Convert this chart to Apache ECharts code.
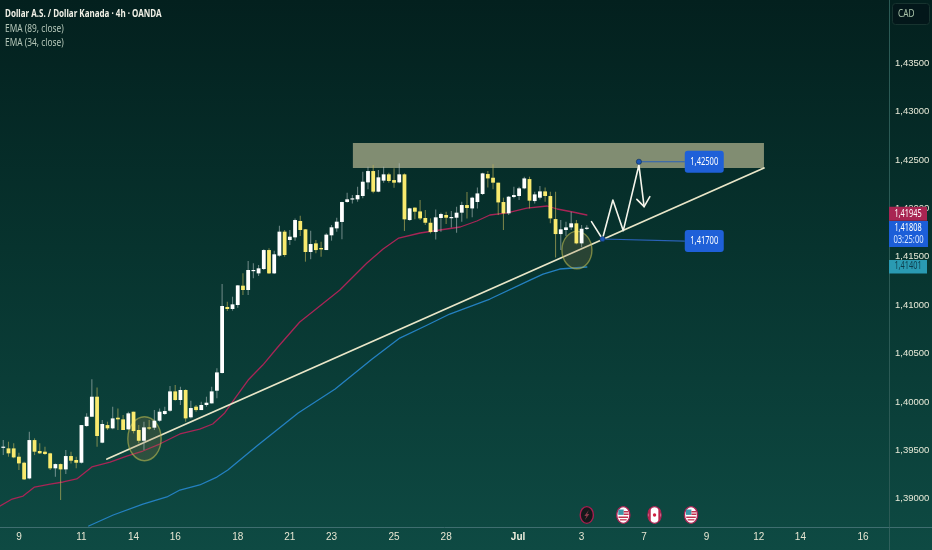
<!DOCTYPE html>
<html><head><meta charset="utf-8">
<style>html,body{margin:0;padding:0;background:#062a27}#c{width:932px;height:550px}</style>
<script src="https://cdn.jsdelivr.net/npm/echarts@6/dist/echarts.min.js"></script>
</head><body><div id="c"></div>
<script>
const titleLines = ['Dollar A.S. / Dollar Kanada · 4h · OANDA','EMA (89, close)','EMA (34, close)'];
const opens=[1.39532,1.39521,1.39521,1.39435,1.39373,1.39211,1.39607,1.39494,1.39487,1.3947,1.39315,1.39359,1.39304,1.39442,1.39401,1.39373,1.39752,1.39848,1.40055,1.3958,1.39762,1.39728,1.39838,1.39821,1.39718,1.399,1.39711,1.396,1.39738,1.39735,1.39807,1.39876,1.3991,1.4011,1.40021,1.40124,1.39842,1.39952,1.39917,1.39969,1.39986,1.40117,1.403,1.40982,1.40961,1.41002,1.41202,1.41157,1.41357,1.41329,1.41374,1.4157,1.41329,1.41512,1.4176,1.41674,1.41701,1.4187,1.41784,1.4155,1.41639,1.41591,1.4157,1.41722,1.41794,1.4186,1.42066,1.42094,1.42094,1.42128,1.42269,1.42386,1.42173,1.42287,1.42352,1.42293,1.42269,1.42352,1.4188,1.42008,1.41969,1.41901,1.41852,1.41756,1.41901,1.41932,1.41904,1.41904,1.41956,1.42035,1.42,1.42066,1.42149,1.42355,1.42317,1.42266,1.42066,1.41949,1.42118,1.42128,1.42207,1.42303,1.42076,1.42111,1.42176,1.42128,1.4189,1.41735,1.41777,1.41804,1.41846,1.41639,1.4179];
const closes=[1.39539,1.3947,1.39428,1.39366,1.39201,1.39607,1.39487,1.3947,1.39463,1.39315,1.39359,1.39304,1.39442,1.39394,1.39373,1.39762,1.39848,1.40055,1.39649,1.39773,1.39728,1.39831,1.39821,1.39711,1.39883,1.397,1.396,1.39738,1.39728,1.39807,1.399,1.39907,1.4011,1.40021,1.40124,1.39831,1.39938,1.39917,1.39969,1.39993,1.4011,1.40306,1.40992,1.40961,1.41009,1.41205,1.41157,1.41364,1.41364,1.41381,1.4157,1.41329,1.41526,1.4176,1.41519,1.41708,1.4188,1.41777,1.4155,1.41632,1.4157,1.41577,1.41729,1.41805,1.41863,1.42066,1.42094,1.42104,1.42138,1.42276,1.42386,1.42173,1.42321,1.42352,1.42283,1.42266,1.42352,1.41887,1.42001,1.41966,1.41897,1.41852,1.41756,1.41908,1.41942,1.41904,1.41911,1.41956,1.42035,1.42004,1.42111,1.42155,1.42362,1.4231,1.42266,1.42062,1.41949,1.42121,1.42138,1.42207,1.4231,1.4208,1.42145,1.42176,1.42128,1.41897,1.41735,1.41784,1.41804,1.41846,1.41639,1.4179,1.41801];
const lows=[1.39452,1.39435,1.39418,1.39298,1.39194,1.39201,1.39452,1.39463,1.39452,1.39298,1.39229,1.38988,1.39256,1.39366,1.39315,1.39366,1.39745,1.39848,1.39539,1.39573,1.39711,1.39718,1.39711,1.39711,1.39711,1.39676,1.39573,1.39504,1.39711,1.39711,1.39797,1.39866,1.399,1.40014,1.39969,1.39797,1.39831,1.399,1.39917,1.39952,1.39986,1.40038,1.40295,1.4094,1.40944,1.40975,1.41106,1.41106,1.41278,1.41302,1.41364,1.41322,1.41322,1.41502,1.41502,1.41622,1.41667,1.41715,1.4145,1.41474,1.41536,1.41502,1.4157,1.41667,1.4176,1.41681,1.42059,1.42052,1.4207,1.42104,1.42197,1.42156,1.42166,1.42266,1.42266,1.42214,1.42259,1.41767,1.41873,1.41887,1.4188,1.41828,1.41742,1.4168,1.41759,1.41839,1.41804,1.41749,1.41863,1.41897,1.41908,1.42,1.42138,1.42217,1.42197,1.41932,1.41777,1.41932,1.42104,1.42087,1.42197,1.42,1.42052,1.42093,1.42069,1.41846,1.41494,1.4157,1.41715,1.41777,1.41629,1.41598,1.41777];
const highs=[1.39607,1.3959,1.39573,1.39477,1.39384,1.39693,1.39625,1.39573,1.39539,1.39477,1.39366,1.39366,1.39504,1.39487,1.39435,1.39762,1.39883,1.40234,1.40151,1.39814,1.39797,1.39952,1.39934,1.39866,1.399,1.399,1.39762,1.39797,1.39814,1.39917,1.39934,1.39952,1.40165,1.40175,1.40158,1.40131,1.40014,1.39969,1.40003,1.40055,1.40158,1.40348,1.41219,1.41037,1.41088,1.41209,1.41329,1.41457,1.41433,1.41415,1.41577,1.41588,1.41563,1.41822,1.41777,1.41777,1.41897,1.41925,1.41787,1.4177,1.41674,1.41656,1.41743,1.41829,1.41904,1.4207,1.42163,1.42138,1.42225,1.42379,1.42431,1.42448,1.42397,1.42431,1.42369,1.42414,1.42466,1.42362,1.42008,1.42011,1.42087,1.41983,1.41897,1.4199,1.41956,1.41966,1.41973,1.42018,1.42069,1.42169,1.42121,1.42217,1.42369,1.42386,1.42455,1.42266,1.42111,1.42128,1.42224,1.42224,1.42328,1.42328,1.42173,1.42231,1.42217,1.42173,1.42173,1.4188,1.41863,1.41966,1.4188,1.41828,1.41825];

const ema34Idx=[-0.6,1.7,3.8,6,9,11.5,14.1,17,20.5,23.7,26.8,30,33.9,37.7,40.2,42.5,44.5,47,49.8,52.7,56.9,59.8,64.6,69.8,72.9,75.9,80,83.8,87.7,90.9,93.4,96.7,100.5,104.4,106.3,109.3,112];
const ema34Val=[1.38926,1.38998,1.39029,1.39122,1.39153,1.39174,1.39205,1.39329,1.3938,1.39442,1.39494,1.39566,1.3967,1.39721,1.39773,1.39887,1.40041,1.40227,1.40382,1.40568,1.40827,1.4095,1.41157,1.41436,1.41581,1.41694,1.41746,1.41777,1.41808,1.4187,1.41932,1.41953,1.42004,1.42025,1.41994,1.41963,1.41932];
const ema89Idx=[16.4,21.1,26.8,31.4,33.9,37.7,41,43.1,48.9,56.6,63.7,70.8,76.1,81,85.7,93.4,101.1,103.6,106.8,112];
const ema89Val=[1.38719,1.38833,1.38946,1.39019,1.39091,1.39143,1.39225,1.39298,1.39556,1.39887,1.40134,1.40444,1.40661,1.40785,1.40909,1.41064,1.4126,1.41322,1.41374,1.41395];

const xTickIdx=[3,15,25,33,45,55,63,75,85,98.8,111,123,135,145,153,165];
const xTickText=['9','11','14','16','18','21','23','25','28','Jul','3','7','9','12','14','16'];
const yTicks=[1.39,1.395,1.40,1.405,1.41,1.415,1.42,1.425,1.43,1.435];

const trendIdx=[19.9,146], trendVal=[1.39411,1.42417];
const zoneIdx=[67.1,146], zoneVal=[1.42676,1.42417];
const pathIdx=[112.9,115,117,119,122,123], pathVal=[1.41863,1.41684,1.42087,1.4177,1.42448,1.42018];
const arrowIdx=[121.6,123,124.1], arrowVal=[1.42094,1.42018,1.42121];
const ellipseIdx=[27.1,110.1], ellipseVal=[1.39621,1.4157], ellipseRx=[3.2,2.88], ellipseRy=[0.00227,0.00193];
const noteText=['1,42500','1,41700'], noteIdx=[122,115], noteVal=[1.42482,1.41684], noteBoxVal=[1.42482,1.41663], noteBoxIdx=130.8;
const tagVal=[1.41945,1.41808,1.41401], tagText=['1,41945','1,41808','1,41401'], tagTimer='03:25:00';
const eventIdx=[112,119,125,132], eventKind=['bolt','us','ca','us'], eventVal=1.38833;

const FONT='"Noto Sans",sans-serif';
const AXISFONT='"Liberation Sans",sans-serif';
const candleData=opens.map((o,i)=>[i,o,closes[i],lows[i],highs[i]]);
const fmt=v=>v.toFixed(5).replace('.',',');
const xMap=Object.fromEntries(xTickIdx.map((v,i)=>[v,xTickText[i]]));
// real text narrowed horizontally around its anchor
const txt=(text,x,y,fill,font,sx,align)=>({type:'text',x,y,scaleX:sx,originX:0,originY:0,
  style:{text,x:0,y:0,fill,font,textAlign:align||'center',textVerticalAlign:'middle'}});

function renderCandle(p,api){
  const i=api.value(0),o=api.value(1),c=api.value(2),l=api.value(3),h=api.value(4);
  const up=c>=o, xc=api.coord([i,o])[0];
  const yo=api.coord([i,o])[1],yc=api.coord([i,c])[1],yl=api.coord([i,l])[1],yh=api.coord([i,h])[1];
  const top=Math.min(yo,yc),ht=Math.max(Math.abs(yo-yc),1.2);
  return {type:'group',children:[
    {type:'line',shape:{x1:xc,y1:yh,x2:xc,y2:yl},style:{stroke:up?'rgba(170,185,185,0.6)':'rgba(190,180,90,0.6)',lineWidth:1.1}},
    {type:'rect',shape:{x:xc-1.9,y:top,width:3.8,height:ht},style:{fill:up?'#ffffff':'#f9ea6e'}}
  ]};
}
function renderEllipse(p,api){
  const c=api.coord([api.value(0),api.value(1)]);
  const e=api.coord([api.value(0)+api.value(2),api.value(1)+api.value(3)]);
  return {type:'ellipse',shape:{cx:c[0],cy:c[1],rx:Math.abs(e[0]-c[0]),ry:Math.abs(e[1]-c[1])},
    style:{fill:'rgba(150,122,70,0.24)',stroke:'rgba(185,185,80,0.6)',lineWidth:1.4}};
}
function renderZone(p,api){
  const a=api.coord([zoneIdx[0],zoneVal[0]]),b=api.coord([zoneIdx[1],zoneVal[1]]);
  return {type:'rect',shape:{x:a[0],y:a[1],width:b[0]-a[0],height:b[1]-a[1]},style:{fill:'rgba(134,146,118,0.96)'}};
}
function renderNote(p,api){
  const i=p.dataIndex;
  const a=api.coord([noteIdx[i],noteVal[i]]),b=api.coord([noteBoxIdx,noteBoxVal[i]]);
  return {type:'group',children:[
    {type:'line',shape:{x1:a[0],y1:a[1],x2:b[0],y2:b[1]},style:{stroke:'#2a62b8',lineWidth:1.2}},
    {type:'circle',shape:{cx:a[0],cy:a[1],r:2.6},style:{fill:'#1c56b4',stroke:'#0c2c50',lineWidth:0.6}},
    {type:'rect',shape:{x:b[0],y:b[1]-11,width:39,height:22,r:3},style:{fill:'#1f60d8'}},
    txt(noteText[i],b[0]+19.5,b[1],'#ffffff','10.5px '+FONT,0.72)
  ]};
}
function renderTag(p,api){
  const i=p.dataIndex,c=api.coord([170,tagVal[i]]),x=c[0],y=c[1];
  if(i===0) return {type:'group',children:[
    {type:'rect',shape:{x:x,y:y-7,width:38,height:14},style:{fill:'#a82552'}},
    txt(tagText[i],x+19,y,'#ffffff','10.5px '+FONT,0.7)]};
  if(i===1) return {type:'group',children:[
    {type:'rect',shape:{x:x,y:y-6,width:39,height:26},style:{fill:'#1c5ed8'}},
    txt(tagText[i],x+19,y+1,'#ffffff','10.5px '+FONT,0.7),
    txt(tagTimer,x+19.5,y+13,'#d8e6ff','10px '+FONT,0.76)]};
  return {type:'group',children:[
    {type:'rect',shape:{x:x,y:y-6.5,width:38,height:13.5},style:{fill:'#2a9ab2'}},
    txt(tagText[i],x+19,y,'#0d3d4c','10.5px '+FONT,0.7)]};
}
function renderEvent(p,api){
  const i=p.dataIndex,c=api.coord([eventIdx[i],eventVal]),x=c[0],y=c[1],k=eventKind[i];
  const ring={type:'ellipse',shape:{cx:x,cy:y,rx:6.6,ry:8.4},style:{fill:k==='bolt'?'#14181a':'#ffffff',stroke:'#a81f50',lineWidth:1.4}};
  const ch=[ring];
  if(k==='bolt'){
    ch.push({type:'polygon',shape:{points:[[x+2,y-5],[x-2.5,y+1],[x-0.3,y+1],[x-2,y+5],[x+2.5,y-1],[x+0.3,y-1]]},style:{fill:'#8a3a4a'}});
  }else if(k==='ca'){
    ch.push({type:'rect',shape:{x:x-5.6,y:y-6,width:1.8,height:12},style:{fill:'#b8264c'}});
    ch.push({type:'rect',shape:{x:x+3.8,y:y-6,width:1.8,height:12},style:{fill:'#b8264c'}});
    ch.push({type:'circle',shape:{cx:x,cy:y,r:1.7},style:{fill:'#d02040'}});
  }else{
    ch.push({type:'rect',shape:{x:x-5,y:y-5.5,width:5.4,height:5.4},style:{fill:'#3a96a8'}});
    ch.push({type:'rect',shape:{x:x+0.4,y:y-4,width:4.8,height:1.5},style:{fill:'#c23250'}});
    ch.push({type:'rect',shape:{x:x+0.4,y:y-1.5,width:5,height:1.5},style:{fill:'#c23250'}});
    ch.push({type:'rect',shape:{x:x-4.8,y:y+1.5,width:9.6,height:1.5},style:{fill:'#c23250'}});
    ch.push({type:'rect',shape:{x:x-3.4,y:y+4.2,width:6.8,height:1.3},style:{fill:'#c23250'}});
  }
  return {type:'group',children:ch};
}
const line=(xs,ys,color,w,z,name)=>({type:'line',name,data:xs.map((x,i)=>[x,ys[i]]),showSymbol:false,symbol:'none',smooth:false,
  lineStyle:{color,width:w,cap:'round',join:'round'},z,silent:true,animation:false});

const chart=echarts.init(document.getElementById('c'),null,{renderer:'canvas'});
chart.setOption({
  animation:false,
  backgroundColor:new echarts.graphic.LinearGradient(0,0,0,1,[
    {offset:0,color:'#03201e'},{offset:0.45,color:'#07332e'},{offset:1,color:'#0e4a43'}]),
  grid:{left:0,top:0,right:43,bottom:23,containLabel:false,outerBoundsMode:'none'},
  xAxis:{type:'value',min:-0.63,max:170,splitLine:{show:false},
    axisLine:{show:true,onZero:false,lineStyle:{color:'#3f6e70',width:1}},axisTick:{show:false},
    axisLabel:{show:true,customValues:xTickIdx,margin:5,color:'#e6e6d2',fontFamily:AXISFONT,fontSize:10,
      formatter:v=>{const t=xMap[v]; return t==='Jul'?'{b|Jul}':t;},
      rich:{b:{fontWeight:'bold',color:'#f0f0e0',fontFamily:AXISFONT,fontSize:10}}}},
  yAxis:{type:'value',position:'right',min:1.38709,max:1.44153,scale:true,splitLine:{show:false},
    axisLine:{show:true,onZero:false,lineStyle:{color:'#2b5a55',width:1}},axisTick:{show:false},
    axisLabel:{customValues:yTicks,margin:6,color:'#e8ead8',fontFamily:AXISFONT,fontSize:9.5,formatter:fmt}},
  graphic:[
    {type:'line',shape:{x1:889.5,y1:527,x2:889.5,y2:550},style:{stroke:'#2f605c',lineWidth:1},silent:true},
    {type:'line',shape:{x1:889,y1:527.5,x2:932,y2:527.5},style:{stroke:'#3f6e70',lineWidth:1},silent:true},
    Object.assign(txt(titleLines[0],5,14,'#f0f0e6','bold 11px '+FONT,0.73,'left'),{silent:true,z:20}),
    Object.assign(txt(titleLines[1],5,29,'#b4c6b8','11px '+FONT,0.76,'left'),{silent:true,z:20}),
    Object.assign(txt(titleLines[2],5,43,'#b4c6b8','11px '+FONT,0.76,'left'),{silent:true,z:20}),
    {type:'rect',shape:{x:892.5,y:3.5,width:37,height:21,r:3},style:{fill:'#03171a',stroke:'#17332f',lineWidth:1},silent:true,z:20},
    Object.assign(txt('CAD',898,14,'#a8c2a8','11px '+FONT,0.75,'left'),{silent:true,z:21})
  ],
  series:[
    {type:'custom',name:'zone',renderItem:renderZone,data:[[zoneIdx[0],zoneVal[0]]],z:2,silent:true,clip:true},
    line(ema34Idx,ema34Val,'#a82556',1.3,3,'EMA 34'),
    line(ema89Idx,ema89Val,'#2480c0',1.3,3,'EMA 89'),
    line(trendIdx,trendVal,'#e9e6c8',1.8,4,'Trend'),
    {type:'custom',name:'circles',renderItem:renderEllipse,data:ellipseIdx.map((x,i)=>[x,ellipseVal[i],ellipseRx[i],ellipseRy[i]]),z:5,silent:true},
    {type:'custom',name:'candles',renderItem:renderCandle,data:candleData,encode:{x:0,y:[1,2,3,4]},z:6,silent:true},
    line(pathIdx,pathVal,'#f4f4ea',1.6,7,'Path'),
    line(arrowIdx,arrowVal,'#f4f4ea',1.6,7,'Arrow'),
    {type:'custom',name:'notes',renderItem:renderNote,data:noteIdx.map((x,i)=>[x,noteVal[i]]),z:8,silent:true,clip:false},
    {type:'custom',name:'events',renderItem:renderEvent,data:eventIdx.map(x=>[x,eventVal]),z:8,silent:true,clip:false},
    {type:'custom',name:'tags',renderItem:renderTag,data:tagVal.map(v=>[170,v]),z:9,silent:true,clip:false}
  ]
});
</script></body></html>
